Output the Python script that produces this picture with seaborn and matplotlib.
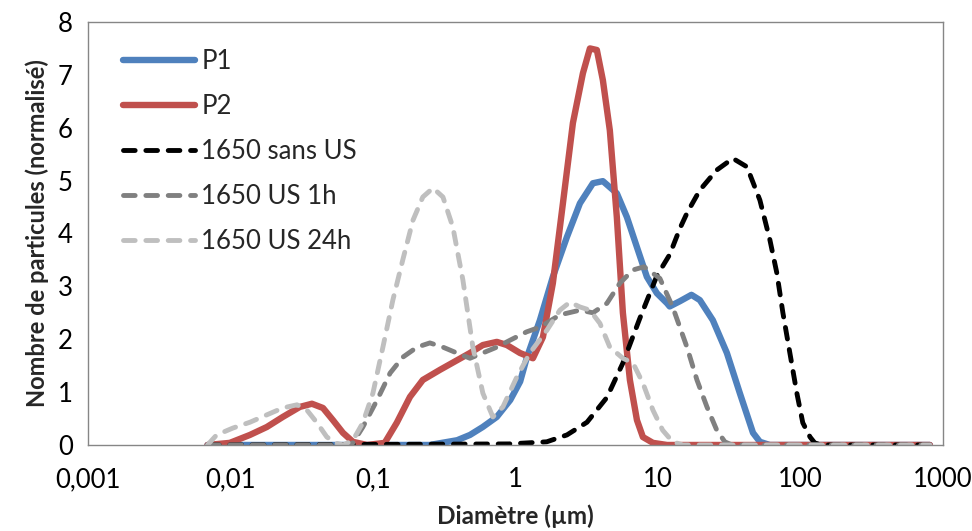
import matplotlib
matplotlib.use("Agg")
import matplotlib.pyplot as plt
import matplotlib.ticker as mticker
import seaborn as sns
import pandas as pd

# diameters (µm) and normalised counts
p1_d = [0.0069, 0.25, 0.39, 0.48, 0.59, 0.74, 0.92, 1.08, 1.205, 1.486, 1.832, 2.297, 2.837,
        3.5, 4.11, 5.15, 6.06, 7.13, 8.37, 9.84, 11.6, 12.1, 14.3, 17.2, 19.7, 24.3, 30.5,
        37.6, 46.5, 52.0, 61.0, 811]
p1_v = [0, 0, 0.09, 0.19, 0.34, 0.53, 0.85, 1.2, 1.66, 2.36, 3.18, 3.93, 4.57,
        4.95, 4.99, 4.76, 4.31, 3.74, 3.18, 2.87, 2.68, 2.62, 2.72, 2.84, 2.74, 2.36, 1.74,
        0.98, 0.23, 0.06, 0, 0]

p2_d = [0.0069, 0.0099, 0.0137, 0.018, 0.0233, 0.0307, 0.0373, 0.0446, 0.0524, 0.0616, 0.0724,
        0.0908, 0.121, 0.147, 0.182, 0.224, 0.295, 0.388, 0.48, 0.591, 0.741, 0.871, 1.076,
        1.327, 1.56, 1.832, 2.155, 2.533, 2.977, 3.334, 3.73, 4.11, 4.6, 5.15, 5.68, 6.36,
        7.13, 7.85, 9.23, 11.6, 811]
p2_v = [0, 0.04, 0.19, 0.34, 0.53, 0.72, 0.78, 0.7, 0.47, 0.23, 0.06,
        0, 0.04, 0.42, 0.91, 1.23, 1.42, 1.6, 1.74, 1.89, 1.95, 1.89, 1.74,
        1.64, 2.04, 3.06, 4.57, 6.09, 7.03, 7.5, 7.47, 6.9, 5.95, 4.31, 2.5, 1.23,
        0.47, 0.15, 0.04, 0, 0]

sans_d = [0.0069, 0.9, 1.66, 2.3, 3.18, 4.39, 5.68, 7.48, 9.84, 12.1, 14.3, 16.1, 19.7, 25.9,
          33.6, 42.2, 52.0, 61.1, 68.4, 75.4, 84.4, 94.5, 104, 117, 126, 140, 811]
sans_v = [0, 0.02, 0.06, 0.19, 0.43, 0.9, 1.55, 2.4, 3.2, 3.6, 4.1, 4.4, 4.82, 5.2,
          5.42, 5.26, 4.63, 3.88, 3.25, 2.5, 1.74, 0.98, 0.42, 0.15, 0.04, 0, 0]

us1_d = [0.0069, 0.066, 0.0724, 0.085, 0.107, 0.132, 0.162, 0.204, 0.251, 0.31, 0.388, 0.48,
         0.59, 0.74, 0.915, 1.2, 1.49, 2.05, 2.84, 3.5, 4.39, 5.41, 6.68, 8.0, 10.33, 12.7,
         16.0, 18.8, 22.1, 25.9, 29.5, 33.0, 811]
us1_v = [0, 0, 0.04, 0.34, 0.85, 1.36, 1.66, 1.85, 1.93, 1.85, 1.74, 1.64,
         1.74, 1.85, 1.98, 2.14, 2.23, 2.46, 2.55, 2.5, 2.68, 3.06, 3.31, 3.37, 3.15, 2.61,
         1.85, 1.23, 0.72, 0.28, 0.06, 0, 0]

us24_d = [0.0069, 0.008, 0.0104, 0.0137, 0.018, 0.0233, 0.0293, 0.0344, 0.0405, 0.0475, 0.0559,
          0.062, 0.0724, 0.085, 0.1, 0.1175, 0.138, 0.162, 0.191, 0.224, 0.264, 0.31, 0.364,
          0.428, 0.503, 0.591, 0.695, 0.817, 1.025, 1.264, 1.663, 2.052, 2.41, 2.84, 3.33,
          3.92, 4.6, 5.68, 6.68, 7.85, 9.23, 10.8, 12.7, 15.0, 811]
us24_v = [0, 0.19, 0.32, 0.43, 0.57, 0.7, 0.76, 0.66, 0.42, 0.15, 0.03,
          0, 0.09, 0.42, 0.98, 1.85, 2.74, 3.5, 4.25, 4.69, 4.86, 4.69, 4.12,
          3.12, 1.85, 0.98, 0.53, 0.72, 1.29, 1.74, 2.17, 2.55, 2.7, 2.61, 2.55,
          2.3, 1.85, 1.64, 1.55, 1.17, 0.66, 0.28, 0.06, 0, 0]

dash = (0, (2.4, 2.2))
series = [
    ("P1", p1_d, p1_v, "#4F81BD", "-", 4.6),
    ("P2", p2_d, p2_v, "#C0504D", "-", 4.6),
    ("1650 sans US", sans_d, sans_v, "#000000", dash, 3.5),
    ("1650 US 1h", us1_d, us1_v, "#808080", dash, 3.5),
    ("1650 US 24h", us24_d, us24_v, "#BFBFBF", dash, 3.5),
]

sns.set_style("white")
plt.rcParams["font.family"] = ["Lato", "DejaVu Sans"]

fig = plt.figure(figsize=(9.72, 5.31), dpi=100)
ax = fig.add_axes([0.0905, 0.162, 0.8795, 0.7966])

for name, d, v, color, ls, lw in series:
    df = pd.DataFrame({"d": d, "v": v})
    sns.lineplot(data=df, x="d", y="v", ax=ax, color=color, linewidth=lw, label=name,
                 sort=False, estimator=None)
    line = ax.lines[-1]
    line.set_linestyle(ls)
    line.set_dash_capstyle("round")
    line.set_solid_capstyle("round")
    line.set_solid_joinstyle("round")

ax.set_xscale("log")
ax.set_xlim(0.001, 1000)
ax.set_ylim(0, 8)
ax.set_xticks([0.001, 0.01, 0.1, 1, 10, 100, 1000])
ax.set_xticklabels(["0,001", "0,01", "0,1", "1", "10", "100", "1000"])
ax.xaxis.set_minor_locator(mticker.NullLocator())
ax.set_yticks(range(0, 9))

for s in ax.spines.values():
    s.set_visible(True)
    s.set_color("#868686")
    s.set_linewidth(1.0)
ax.tick_params(axis="both", which="major", direction="out", length=5, width=1,
               color="#868686", labelsize=18.5, labelcolor="black", pad=6)
ax.tick_params(axis="x", pad=11)

ax.set_xlabel("Diamètre (µm)", fontsize=17.5, fontweight="bold", labelpad=9)
ax.set_ylabel("Nombre de particules (normalisé)", fontsize=17, fontweight="bold", labelpad=6)

leg = ax.legend(loc="upper left", bbox_to_anchor=(0.041, 0.937), frameon=False, fontsize=18.5,
                handlelength=2.8, handletextpad=0.25, labelspacing=0.78, borderaxespad=0,
                borderpad=0)

fig.savefig("out.png", dpi=100)
